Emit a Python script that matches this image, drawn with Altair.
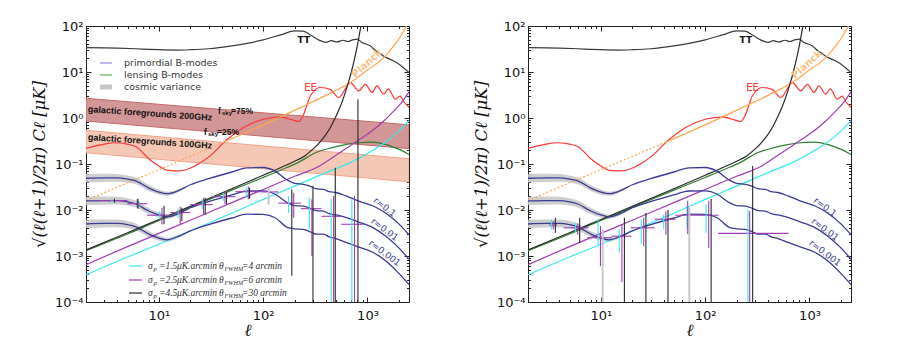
import altair as alt
import pandas as pd

# ---------------- theory spectra ----------------
tt_ell = [2, 3, 4, 6, 8, 10, 15, 20, 30, 50, 70, 100, 150, 200, 240, 290, 340, 400, 450, 510, 580, 650, 720, 800, 870, 950, 1070, 1200, 1300, 1430, 1600, 1900, 2200, 2500]
tt_val = [34, 33.5, 33, 32, 31, 30.5, 30, 30.5, 32, 37, 42, 50, 65, 78, 77, 62, 50, 44, 48, 45, 49, 46, 50, 52, 45, 41, 36.7, 29, 26, 22, 19.5, 16, 12.5, 9.7]

ee_ell = [2, 3, 3.7, 5, 6, 8, 10, 12, 16, 22, 31, 45, 65, 100, 146, 180, 219, 244, 283, 353, 440, 530, 686, 824, 955, 1105, 1230, 1430, 1580, 1850, 2050, 2250, 2500]
ee_val = [0.22, 0.27, 0.29, 0.27, 0.24, 0.13, 0.09, 0.073, 0.071, 0.09, 0.15, 0.34, 0.62, 0.94, 1.05, 0.95, 0.84, 1.2, 3.0, 4.6, 4.2, 2.8, 5.9, 3.9, 5.4, 3.6, 5.0, 3.3, 4.3, 2.55, 3.0, 2.2, 1.7]

planck_ell = [2, 5, 10, 20, 42, 100, 227, 400, 686, 1000, 1430, 1800, 2100, 2300, 2500]
planck_val = [0.016, 0.039, 0.075, 0.146, 0.30, 0.71, 1.68, 3.1, 5.9, 11, 20.6, 38, 62, 90, 130]
planck_split = 42

lens_ell = [2, 5, 10, 20, 50, 100, 150, 220, 317, 458, 600, 820, 1100, 1480, 1800, 2100, 2500]
lens_val = [0.0013, 0.003, 0.0059, 0.0113, 0.027, 0.051, 0.075, 0.11, 0.176, 0.227, 0.26, 0.29, 0.30, 0.268, 0.23, 0.2, 0.16]

# noise curves of the three experiments
blk_ell = [2, 5, 10, 20, 50, 100, 150, 200, 250, 300, 350, 400, 450, 500, 550, 600, 650, 700, 750, 800, 850, 900]
blk_val = [0.00135, 0.0032, 0.0062, 0.012, 0.029, 0.057, 0.085, 0.115, 0.15, 0.21, 0.3, 0.44, 0.68, 1.1, 1.8, 3.1, 5.5, 10, 19, 38, 80, 170]
pur_ell = [2, 5, 10, 20, 50, 100, 200, 330, 510, 700, 850, 1100, 1430, 1800, 2100, 2500]
pur_val = [0.00065, 0.0016, 0.0031, 0.006, 0.0145, 0.028, 0.054, 0.085, 0.16, 0.26, 0.35, 0.52, 0.86, 1.45, 2.1, 3.7]
cya_ell = [2, 5, 10, 20, 50, 100, 200, 400, 700, 1000, 1430, 1800, 2100, 2500]
cya_val = [0.00039, 0.00095, 0.0018, 0.0035, 0.0085, 0.017, 0.033, 0.065, 0.11, 0.17, 0.28, 0.42, 0.58, 0.88]

# primordial B-modes
bm_ell = [2, 3, 4, 5, 6, 8, 10, 12, 15, 20, 30, 50, 70, 100, 130, 170, 200, 243, 280, 320, 378, 430, 500, 631, 800, 1137, 1500, 2000, 2500]
r1_val = [0.049, 0.05, 0.05, 0.047, 0.043, 0.030, 0.0245, 0.0226, 0.0257, 0.0354, 0.048, 0.067, 0.082, 0.084, 0.07, 0.045, 0.038, 0.036, 0.033, 0.029, 0.028, 0.025, 0.024, 0.02, 0.016, 0.0122, 0.0085, 0.005, 0.0029]
r01_val = [0.0158, 0.016, 0.016, 0.015, 0.0135, 0.0095, 0.0078, 0.0071, 0.0081, 0.0112, 0.0152, 0.0212, 0.0259, 0.026, 0.022, 0.0145, 0.0125, 0.0122, 0.011, 0.0097, 0.0095, 0.0083, 0.0078, 0.0068, 0.0056, 0.0041, 0.0027, 0.0015, 0.00085]
r001_val = [0.005, 0.0051, 0.0051, 0.0048, 0.0043, 0.003, 0.00245, 0.00225, 0.0026, 0.0035, 0.0048, 0.0067, 0.0081, 0.008, 0.0068, 0.0042, 0.0039, 0.0038, 0.0034, 0.003, 0.003, 0.0026, 0.0024, 0.00195, 0.0016, 0.00119, 0.00078, 0.00042, 0.00024]
# cosmic variance half-width (decades) for the first multipoles
cv_dex = [0.09, 0.088, 0.085, 0.08, 0.075, 0.065, 0.055, 0.045, 0.03, 0.0]

# galactic foregrounds (two end points each)
fg_ell = [2, 2500]
fg200_hi = [2.68, 0.71]
fg200_lo = [0.86, 0.215]
fg100_hi = [0.54, 0.13]
fg100_lo = [0.176, 0.041]

# ---------------- binned error bars, left panel ----------------
L_cya_ell = [3.55, 6.4, 10.2, 15.3, 26, 41.5, 69, 175, 277, 449, 708]
L_cya_hi = [0.0171, 0.0158, 0.0095, 0.0107, 0.0171, 0.0238, 0.0306, 0.0201, 0.0185, 0.0171, 0.0171]
L_cya_lo = [0.0149, 0.0118, 0.0063, 0.0068, 0.0103, 0.0158, 0.0185, 0.0087, 0.0038, 0.00005, 0.00005]
L_pur_ell = [6.2, 10.7, 16, 26.8, 43, 72, 196, 293, 473, 751]
L_pur_hi = [0.0171, 0.0112, 0.0118, 0.0185, 0.0259, 0.0322, 0.0238, 0.0171, 0.0201, 0.0201]
L_pur_lo = [0.0112, 0.0049, 0.0049, 0.0080, 0.0133, 0.0171, 0.0068, 0.001, 0.00005, 0.00005]
L_blk_ell = [3.75, 6.3, 11.2, 16.6, 27.8, 44.5, 74, 188, 300, 491, 810]
L_blk_hi = [0.0176, 0.0176, 0.0122, 0.0112, 0.0185, 0.0246, 0.0306, 0.0281, 0.0333, 0.083, 2.55]
L_blk_lo = [0.0144, 0.0107, 0.0049, 0.0058, 0.0080, 0.0133, 0.0176, 0.00037, 0.00005, 0.00005, 0.00005]
L_gry_ell = [113]
L_gry_hi = [0.0306]
L_gry_lo = [0.0131]
L_bin_lo = [2.6, 5.0, 7.7, 12.9, 20, 33, 54, 97, 140, 230, 360, 560]
L_bin_hi = [5.0, 7.7, 12.9, 20, 33, 54, 97, 140, 230, 360, 560, 920]
L_bin_val = [0.016, 0.0137, 0.0077, 0.0088, 0.0131, 0.0195, 0.025, 0.0247, 0.0141, 0.0107, 0.0073, 0.0049]

# ---------------- binned error bars, right panel ----------------
R_cya_ell = [3.35, 5.7, 9.4, 15, 24.4, 40, 66.9, 102, 257]
R_cya_hi = [0.0061, 0.0053, 0.0063, 0.0038, 0.0063, 0.0081, 0.0122, 0.0133, 0.0103]
R_cya_lo = [0.0038, 0.0032, 0.00165, 0.00118, 0.0018, 0.0038, 0.0038, 0.0032, 0.00005]
R_pur_ell = [3.5, 6.0, 9.9, 15.9, 25.7, 42, 68, 108, 267]
R_pur_hi = [0.0057, 0.0051, 0.0045, 0.0049, 0.0068, 0.0094, 0.0158, 0.0158, 0.0094]
R_pur_lo = [0.0038, 0.0029, 0.0006, 0.00027, 0.00165, 0.0029, 0.0030, 0.0015, 0.00005]
R_blk_ell = [3.66, 6.26, 16.8, 27, 44, 114, 285]
R_blk_hi = [0.0068, 0.0068, 0.0068, 0.0086, 0.0101, 0.0176, 0.09]
R_blk_lo = [0.0032, 0.00195, 0.00005, 0.00005, 0.00005, 0.00005, 0.00005]
R_gry_ell = [10.4, 70.4]
R_gry_hi = [0.0038, 0.0122]
R_gry_lo = [0.00005, 0.00005]
R_bin_lo = [3.2, 4.4, 7.4, 12.6, 19.3, 32.8, 51.7, 133]
R_bin_hi = [3.8, 7.6, 12.8, 19.6, 32.8, 51.7, 134, 632]
R_bin_val = [0.0047, 0.0041, 0.0025, 0.0027, 0.0041, 0.0063, 0.0077, 0.0031]

# label anchor points (ell, value) on the r curves
r_lab_ell = [1368, 1321]
r_lab_val = [0.0095, 0.0031, 0.00095]
r_lab_txt = ["r=0.1", "r=0.01", "r=0.001"]

# ---------------- styling ----------------
C_TT = "#3a3a3a"
C_EE = "#ff3434"
C_OR = "#ffa64d"
C_BK = "#2a2a2a"
C_GR = "#2f7f2f"
C_PU = "#a23cb4"
C_CY = "#33e9f0"
C_BL = "#3a3a98"
C_CV = "#c6c6c6"

W, H = 323, 276
XS = alt.Scale(type="log", domain=[2, 2500], nice=False)
YS = alt.Scale(type="log", domain=[1e-4, 100], nice=False)

x_major = [10, 100, 1000]
x_minor = [m * 10 ** k for k in range(0, 4) for m in range(2, 10) if m * 10 ** k <= 2500]
y_major = [10.0 ** k for k in range(-4, 3)]
y_minor = [m * 10.0 ** k for k in range(-4, 2) for m in range(2, 10)]

E = "round(log(datum.value)/LN10)"
sup = {-4: "10⁻⁴", -3: "10⁻³", -2: "10⁻²", -1: "10⁻¹", 0: "10⁰", 1: "10¹", 2: "10²", 3: "10³"}


def lab_expr(exps):
    inner = "''"
    for e in reversed(exps):
        inner = f"({E} == {e} ? '{sup[e]}' : {inner})"
    return inner


TFONT = dict(titleFont="DejaVu Serif", titleFontStyle="italic", titleFontWeight="normal")


def tick_axis(orient, values, size):
    return alt.Axis(orient=orient, values=values, tickSize=size, offset=-size, domain=False,
                    grid=False, labels=False, title=None, labelOverlap=False)


XA_main = alt.Axis(orient="bottom", values=x_major, labelExpr=lab_expr([1, 2, 3]), title="ℓ",
                   grid=False, labelOverlap=False, tickSize=5, offset=-5, domain=False,
                   labelPadding=7, titleFontSize=17, titlePadding=0, **TFONT)
YA_main = alt.Axis(orient="left", values=y_major, labelExpr=lab_expr([-4, -3, -2, -1, 0, 1, 2]),
                   title="√(ℓ(ℓ+1)/2π) Cℓ  [μK]", grid=False, labelOverlap=False, tickSize=5,
                   offset=-5, domain=False, labelPadding=3, titleFontSize=16.5, titlePadding=7,
                   **TFONT)
AXES = [
    (XA_main, YA_main),
    (tick_axis("bottom", x_minor, 2.5), tick_axis("left", y_minor, 2.5)),
    (tick_axis("top", x_major, 5), tick_axis("right", y_major, 5)),
    (tick_axis("top", x_minor, 2.5), tick_axis("right", y_minor, 2.5)),
]


def X(f, axis=None):
    return alt.X(f, type="quantitative", scale=XS, axis=axis)


def Y(f, axis=None):
    return alt.Y(f, type="quantitative", scale=YS, axis=axis)


def frame_layers():
    d = pd.DataFrame({"ell": tt_ell, "v": tt_val})
    return [alt.Chart(d).mark_point(opacity=0, size=1).encode(x=X("ell", xa), y=Y("v", ya))
            for xa, ya in AXES]


def curve(ell, val, color, width=1.2, dash=None):
    d = pd.DataFrame({"ell": ell, "v": val})
    mk = dict(color=color, strokeWidth=width, clip=True, interpolate="monotone")
    if dash:
        mk["strokeDash"] = dash
    return alt.Chart(d).mark_line(**mk).encode(x=X("ell"), y=Y("v"))


def vbars(ell, lo, hi, color, width=1.1, opacity=1.0):
    d = pd.DataFrame({"ell": ell, "lo": lo, "hi": hi})
    return alt.Chart(d).mark_rule(color=color, strokeWidth=width, opacity=opacity, clip=True).encode(
        x=X("ell"), y=Y("lo"), y2="hi")


def hbars(lo, hi, val, color, width=1.1):
    d = pd.DataFrame({"lo": lo, "hi": hi, "v": val})
    return alt.Chart(d).mark_rule(color=color, strokeWidth=width, clip=True).encode(
        x=X("lo"), x2="hi", y=Y("v"))


def band(ell, lo, hi, fill, stroke, opacity=1.0, interp="linear"):
    d = pd.DataFrame({"ell": ell, "lo": lo, "hi": hi})
    return alt.Chart(d).mark_area(fill=fill, stroke=stroke, strokeWidth=1 if stroke else 0,
                                  opacity=opacity, clip=True, interpolate=interp).encode(
        x=X("ell"), y=Y("hi"), y2="lo")


def dlabel(ell, v, text, color, size, angle=0, weight="normal", font="DejaVu Sans",
           align="center", dy=0):
    d = pd.DataFrame({"ell": [ell], "v": [v]})
    return alt.Chart(d).mark_text(text=text, color=color, fontSize=size, angle=angle,
                                  fontWeight=weight, font=font, align=align, dy=dy,
                                  baseline="middle").encode(x=X("ell"), y=Y("v"))


ONE = pd.DataFrame({"k": [0]})


def ptext(x, y, text, size, color="#222", weight="normal", font="DejaVu Sans", style="normal",
          angle=0, align="left"):
    return alt.Chart(ONE).mark_text(color=color, fontSize=size, fontWeight=weight, font=font,
                                    fontStyle=style, angle=angle, align=align,
                                    baseline="middle").encode(
        x=alt.value(x), y=alt.value(y), text=alt.value(text))


def pline(x1, x2, y, color, width):
    return alt.Chart(ONE).mark_rule(color=color, strokeWidth=width).encode(
        x=alt.value(x1), x2=alt.value(x2), y=alt.value(y))


def cv_band(vals):
    n = len(cv_dex)
    lo = [v * 10 ** (-d) for v, d in zip(vals[:n], cv_dex)]
    hi = [v * 10 ** d for v, d in zip(vals[:n], cv_dex)]
    return band(bm_ell[:n], lo, hi, C_CV, None, opacity=0.85, interp="monotone")


def panel(left):
    L = frame_layers()
    if left:
        L.append(band(fg_ell, fg200_lo, fg200_hi, "#d39696", "#c46a6a"))
        L.append(band(fg_ell, fg100_lo, fg100_hi, "#f5c7b5", "#eea68a"))
    for vals in (r1_val, r01_val, r001_val):
        L.append(cv_band(vals))
    L.append(curve(tt_ell, tt_val, C_TT))
    L.append(curve(ee_ell, ee_val, C_EE))
    pe = [e for e in planck_ell if e <= planck_split]
    L.append(curve(pe, planck_val[:len(pe)], C_OR, dash=[2, 2]))
    L.append(curve(planck_ell[len(pe) - 1:], planck_val[len(pe) - 1:], C_OR))
    L.append(curve(lens_ell, lens_val, C_GR))
    L.append(curve(cya_ell, cya_val, C_CY))
    L.append(curve(pur_ell, pur_val, C_PU))
    L.append(curve(blk_ell, blk_val, C_BK))
    for vals in (r1_val, r01_val, r001_val):
        L.append(curve(bm_ell, vals, C_BL, width=1.3))
    if left:
        L.append(hbars(L_bin_lo, L_bin_hi, L_bin_val, C_PU))
        L.append(vbars(L_gry_ell, L_gry_lo, L_gry_hi, "#c9c9c9", width=2))
        L.append(vbars(L_cya_ell, L_cya_lo, L_cya_hi, C_CY))
        L.append(vbars(L_pur_ell, L_pur_lo, L_pur_hi, C_PU))
        L.append(vbars(L_blk_ell, L_blk_lo, L_blk_hi, C_BK))
    else:
        L.append(hbars(R_bin_lo, R_bin_hi, R_bin_val, C_PU))
        L.append(vbars(R_gry_ell, R_gry_lo, R_gry_hi, "#c9c9c9", width=2))
        L.append(vbars(R_cya_ell, R_cya_lo, R_cya_hi, C_CY))
        L.append(vbars(R_pur_ell, R_pur_lo, R_pur_hi, C_PU))
        L.append(vbars(R_blk_ell, R_blk_lo, R_blk_hi, C_BK))
    L.append(dlabel(245, 50, "TT", "#111", 9, weight="bold"))
    L.append(dlabel(284, 4.4, "EE", C_EE, 10))
    L.append(dlabel(1050 if left else 1000, 13.3 if left else 12.5, "Planck", "#f9bf80", 10,
                    angle=318, weight="bold", dy=-4))
    xr = r_lab_ell[0] if left else r_lab_ell[1]
    for v, t in zip(r_lab_val, r_lab_txt):
        L.append(dlabel(xr, v, t, C_BL, 9, angle=37, dy=-5))
    if left:
        L.append(ptext(2, 83, "galactic foregrounds 200GHz", 9, "#111", weight="bold",
                       font="Liberation Sans", angle=4))
        L.append(ptext(2, 111, "galactic foregrounds 100GHz", 9, "#111", weight="bold",
                       font="Liberation Sans", angle=4))
        for (x0, y0, t) in ((132, 85, "=75%"), (118, 106, "=25%")):
            L.append(ptext(x0, y0, "f", 8.5, "#111", weight="bold", font="Liberation Sans"))
            L.append(ptext(x0 + 4, y0 + 2, "sky", 6, "#111", weight="bold", font="Liberation Sans"))
            L.append(ptext(x0 + 13, y0, t, 8.5, "#111", weight="bold", font="Liberation Sans"))
        L.append(pline(14, 26, 37, "#b9b9ea", 2))
        L.append(pline(14, 26, 49, "#3d9a3d", 1))
        L.append(pline(14, 26, 61, C_CV, 5))
        L.append(ptext(38, 37, "primordial B-modes", 9.5, "#333"))
        L.append(ptext(38, 49, "lensing B-modes", 9.5, "#333"))
        L.append(ptext(38, 61, "cosmic variance", 9.5, "#333"))
        rows = [(240, C_CY, "=1.5", "=4 arcmin"), (254, C_PU, "=2.5", "=6 arcmin"),
                (267, C_BK, "=4.5", "=30 arcmin")]
        for (yy, col, sig, fw) in rows:
            L.append(pline(43, 56, yy, col, 1.2))
            L.append(ptext(62, yy, "σ", 9.5, "#333", font="Liberation Serif", style="italic"))
            L.append(ptext(67.5, yy + 2.5, "p", 6.5, "#333", font="Liberation Serif", style="italic"))
            L.append(ptext(73, yy, sig, 9.5, "#333", font="Liberation Serif", style="italic"))
            L.append(ptext(91, yy, "μK.arcmin", 9.5, "#333", font="Liberation Serif", style="italic"))
            L.append(ptext(133, yy, "θ", 9.5, "#333", font="Liberation Serif", style="italic"))
            L.append(ptext(138.5, yy + 2.5, "FWHM", 6.2, "#333", font="Liberation Serif", style="italic"))
            L.append(ptext(156, yy, fw, 9.5, "#333", font="Liberation Serif", style="italic"))
    return alt.layer(*L).properties(width=W, height=H)


chart = alt.hconcat(panel(True), panel(False), spacing=62).properties(
    padding={"left": 30, "top": 19, "right": 5, "bottom": 5}
).configure_view(stroke="#222", strokeWidth=1).configure_axis(
    labelFont="DejaVu Sans", labelFontSize=13, labelColor="#111", tickColor="#222",
    domainColor="#222", titleColor="#111"
)

chart.save("out.html", embed_options={"renderer": "svg", "actions": False})
